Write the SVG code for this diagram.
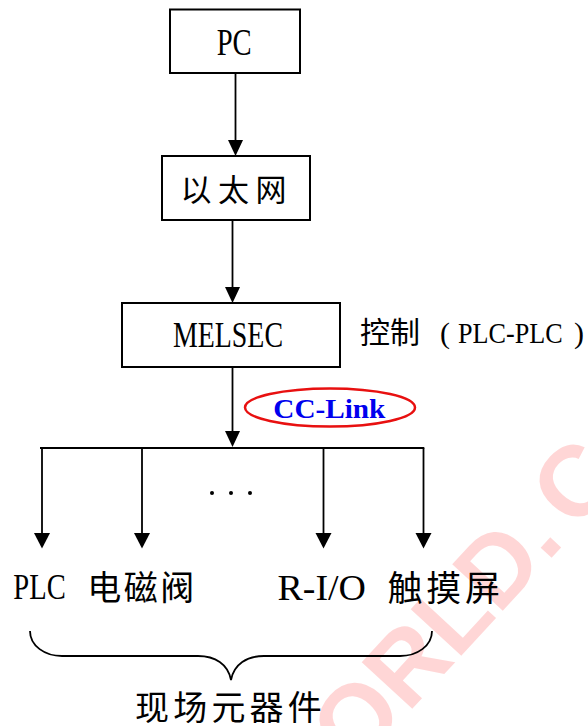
<svg xmlns="http://www.w3.org/2000/svg" width="588" height="726" viewBox="0 0 588 726">
  <style>
    .box { fill: #ffffff; stroke: #000000; stroke-width: 2; }
    .line { fill: none; stroke: #000000; stroke-width: 1.8; }
    .head { fill: #000000; stroke: none; }
    .lat { font-family: "Liberation Serif", "Times New Roman", serif; fill: #000000; }
    .cjk { font-family: "Noto Sans CJK SC", "Noto Sans", sans-serif; fill: #000000; }
    .wm { font-family: "Liberation Sans", Arial, sans-serif; font-weight: bold; fill: #ff0000; fill-opacity: 0.16; }
  </style>
  <rect width="588" height="726" fill="#ffffff"/>

  <text class="wm" font-size="100" transform="translate(355,771) rotate(-47.3)">ORLD.<tspan dx="14">C</tspan></text>

  <g id="pc">
    <rect class="box" x="170" y="9.5" width="130" height="63.5"/>
    <text class="lat" x="216.7" y="55" font-size="37" textLength="35" lengthAdjust="spacingAndGlyphs">PC</text>
  </g>

  <g id="ethernet">
    <rect class="box" x="162" y="156" width="148" height="64"/>
    <text class="cjk" x="180.5 218 255.5" y="201" font-size="31">以太网</text>
  </g>

  <g id="melsec">
    <rect class="box" x="122" y="303" width="218" height="64"/>
    <text class="lat" x="173" y="347" font-size="36" textLength="110" lengthAdjust="spacingAndGlyphs">MELSEC</text>
  </g>

  <g id="control-note">
    <text class="cjk" x="360" y="343" font-size="30">控制</text>
    <text class="lat" x="440" y="343" font-size="30">(</text>
    <text class="lat" font-size="30" transform="translate(458,343) scale(0.872,1)">PLC-PLC</text>
    <text class="lat" x="574" y="343" font-size="30">)</text>
  </g>

  <g id="cclink">
    <ellipse cx="330" cy="407.5" rx="85" ry="19" fill="none" stroke="#e81010" stroke-width="2.5"/>
    <text x="273.3" y="418.3" font-family="Liberation Serif, Times New Roman, serif" font-weight="bold" font-size="27" fill="#0000ee" textLength="112" lengthAdjust="spacingAndGlyphs">CC-Link</text>
  </g>

  <g id="connectors">
    <line class="line" x1="235.5" y1="73" x2="235.5" y2="142"/>
    <polygon class="head" points="235.5,156 228,140 243,140"/>
    <line class="line" x1="232.5" y1="220" x2="232.5" y2="289"/>
    <polygon class="head" points="232.5,303 225,287 240,287"/>
    <line class="line" x1="232.5" y1="367" x2="232.5" y2="433"/>
    <polygon class="head" points="232.5,447 225,431 240,431"/>
    <line class="line" x1="40" y1="448" x2="424.3" y2="448"/>
    <line class="line" x1="42" y1="448" x2="42" y2="535"/>
    <polygon class="head" points="42,548.5 34,533 50,533"/>
    <line class="line" x1="142" y1="448" x2="142" y2="535"/>
    <polygon class="head" points="142,548.5 134,533 150,533"/>
    <line class="line" x1="323.5" y1="448" x2="323.5" y2="535"/>
    <polygon class="head" points="323.5,548.5 315.5,533 331.5,533"/>
    <line class="line" x1="423.5" y1="448" x2="423.5" y2="535"/>
    <polygon class="head" points="423.5,548.5 415.5,533 431.5,533"/>
  </g>

  <g id="ellipsis">
    <circle cx="212" cy="493" r="2"/>
    <circle cx="231" cy="493" r="2"/>
    <circle cx="250" cy="493" r="2"/>
  </g>

  <g id="plc">
    <text class="lat" x="13.3" y="599.3" font-size="36" textLength="52.4" lengthAdjust="spacingAndGlyphs">PLC</text>
  </g>
  <g id="solenoid-valve">
    <text class="cjk" x="87.3 123.8 160.3" y="599.5" font-size="34">电磁阀</text>
  </g>
  <g id="remote-io">
    <text class="lat" x="277.5" y="600" font-size="36" textLength="88.5" lengthAdjust="spacingAndGlyphs">R-I/O</text>
  </g>
  <g id="touch-screen">
    <text class="cjk" x="387.5 426.2 464.9" y="601" font-size="35">触摸屏</text>
  </g>

  <g id="field-devices">
    <path class="line" d="M30,631 C30,646 45,656 62,656 L198,656 C215,656 228,664 231,680 C234,664 247,656 264,656 L400,656 C417,656 432,646 432,631"/>
    <text class="cjk" x="135 173.2 211.4 249.6 287.8" y="719.5" font-size="34">现场元器件</text>
  </g>
</svg>
